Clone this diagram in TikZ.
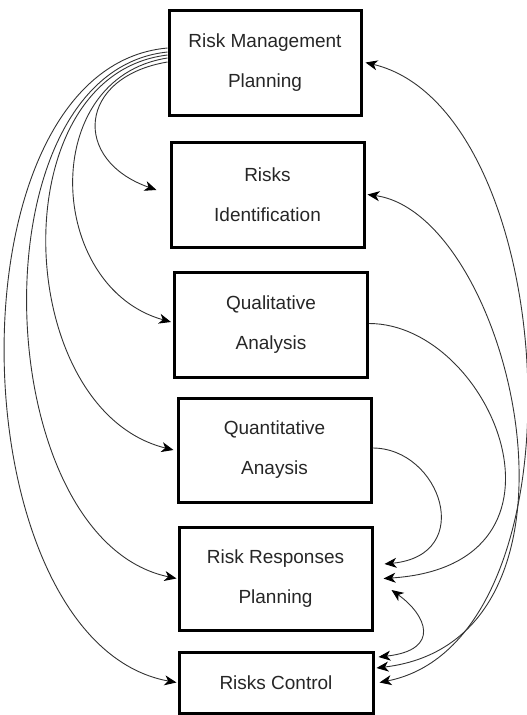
\documentclass[tikz,border=0pt]{standalone}
\usepackage{fontspec}
\setmainfont{Liberation Sans}
\usetikzlibrary{arrows.meta, calc}

\begin{document}
\begin{tikzpicture}[x=1pt, y=-1pt, >={Stealth[length=12pt, width=10pt, inset=3.5pt, color=black]},
  box/.style={draw, line width=3pt, minimum width=193pt, minimum height=105pt, inner sep=0pt,
    align=center, text=black!85, font=\fontsize{19}{40}\selectfont},
  link/.style={draw=black!80, line width=0.9pt}]
  \useasboundingbox (0,0) rectangle (527,715);
  % cajas
  \node[box, minimum width=192pt] (rmp) at (265,62.5) {Risk Management\\Planning};
  \node[box] (ident) at (267.5,194.5) {Risks\\Identification};
  \node[box] (qual)  at (271,324.5) {Qualitative\\Analysis};
  \node[box, minimum height=104pt] (quant) at (274.5,450) {Quantitative\\Anaysis};
  \node[box, minimum height=103pt] (resp)  at (275.5,578.5) {Risk Responses\\Planning};
  \node[box, minimum width=194pt, minimum height=61pt] (ctrl) at (276,682.5) {Risks Control};
  % flechas a la izquierda
  \draw[link,->] ($(rmp.west)+(0,-0.5)$) .. controls +(-90,15) and +(-85,-30) .. ($(ident.west)+(-13,-4.5)$);
  \draw[link,->] ($(rmp.west)+(0,-4.5)$) .. controls +(-130,20) and +(-125,-35) .. ($(qual.west)+(-2,-2.5)$);
  \draw[link,->] ($(rmp.west)+(0,-7.5)$) .. controls +(-168,20) and +(-162,-40) .. ($(quant.west)+(-3,0)$);
  \draw[link,->] ($(rmp.west)+(0,-10.5)$) .. controls +(-195,20) and +(-190,-40) .. ($(resp.west)+(-1,0)$);
  \draw[link,->] ($(rmp.west)+(0,-14.5)$) .. controls +(-225,20) and +(-220,-40) .. ($(ctrl.west)+(-1,0)$);
  % flechas a la derecha
  \draw[link,<->] ($(ctrl.east)+(5,0)$) .. controls +(212,-42) and +(196,47) .. ($(rmp.east)+(3,0)$);
  \draw[link,<->] ($(ctrl.east)+(2,-14.5)$) .. controls +(235,-28) and +(144,20) .. ($(ident.east)+(2,0)$);
  \draw[link,->] ($(qual.east)+(0,-1)$) .. controls +(123,0) and +(208,-13.5) .. ($(resp.east)+(10,0)$);
  \draw[link,->] ($(quant.east)+(0,-2)$) .. controls +(68,0) and +(92,-9) .. ($(resp.east)+(11,-14.5)$);
  \draw[link,<->] ($(resp.east)+(18,11.5)$) .. controls +(35,25) and +(63,-7) .. ($(ctrl.east)+(4,-25.5)$);
\end{tikzpicture}
\end{document}
